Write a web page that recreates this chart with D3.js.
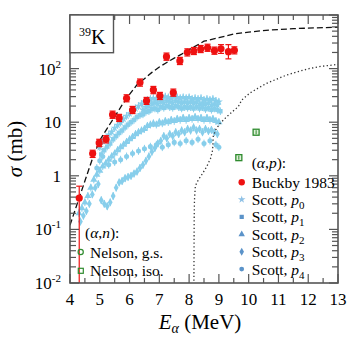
<!DOCTYPE html>
<html>
<head>
<meta charset="utf-8">
<script src="https://cdn.jsdelivr.net/npm/d3@7"></script>
<style>
  body { margin: 0; background: #fff; }
</style>
</head>
<body>
<svg id="chart" width="353" height="338" font-family="'Liberation Serif', 'Times New Roman', Times, 'DejaVu Serif', serif"></svg>
<script>
// Buckby 1983 (alpha,p)
const buckbyE = [4.31, 4.76, 4.98, 5.21, 5.43, 5.65, 5.90, 6.10, 6.35, 6.57, 6.80, 7.02, 7.24, 7.47, 7.69, 7.94, 8.16, 8.39, 8.62, 8.85, 9.07, 9.32, 9.52];
const buckbyS = [0.385, 2.6, 4.1, 4.8, 13.8, 12, 27.9, 16.9, 55, 25, 40, 31, 167, 35.5, 139, 201, 213, 232, 245, 216, 234, 207, 219];
const buckbyLo = [0.005, 2.2, 3.5, 4.1, 11.8, 10.3, 24, 14.5, 47, 21.5, 34, 26.5, 143, 30.5, 119, 172, 183, 199, 210, 185, 192, 152, 188];
const buckbyHi = [0.64, 3.0, 4.8, 5.6, 16.1, 14, 32.5, 19.7, 64, 29, 46.5, 36, 195, 41.5, 162, 234, 248, 270, 285, 252, 280, 280, 255];

// Scott (alpha,p0..p4)
const scottP0 = [[5.0,3.4],[5.1,4.4],[5.2,4.9],[5.3,5.8],[5.4,6.6],[5.5,7.8],[5.6,8.8],[5.7,9.8],[5.8,11.5],[5.9,13],[6.0,14.5],[6.1,16.5],[6.2,18],[6.3,20],[6.4,22],[6.5,24],[6.6,26],[6.7,27],[6.8,28],[6.9,27],[7.0,29],[7.1,28],[7.2,30],[7.3,29],[7.4,28],[7.5,30],[7.6,29],[7.7,28],[7.8,29],[7.9,28],[8.0,29],[8.1,27],[8.2,28],[8.3,27],[8.4,28],[8.5,26],[8.6,27],[8.7,26],[8.8,27],[8.9,25],[9.0,24],
  [6.45,17],[6.55,19],[6.65,20],[6.75,22],[6.85,23],[6.95,22],[7.05,24],[7.15,23],[7.25,25],[7.35,24],[7.45,23],[7.55,25],[7.65,24],[7.75,23],[7.85,24],[7.95,23],[8.05,24],[8.15,23],[8.25,24],[8.35,22],[8.45,23],[8.55,22],[8.65,23],[8.75,21],[8.85,22],[8.95,21]];
const scottP1 = [[5.05,2.5],[5.15,3.0],[5.25,3.5],[5.35,4.0],[5.45,4.8],[5.55,5.5],[5.65,6.3],[5.75,7.0],[5.85,8.0],[5.95,9.0],[6.05,10],[6.15,11],[6.25,12.5],[6.35,13.5],[6.45,14],[6.55,15.5],[6.65,16],[6.75,17.5],[6.85,18],[6.95,17],[7.05,19],[7.15,18.5],[7.25,20],[7.35,19],[7.45,18.5],[7.55,20],[7.65,19],[7.75,18],[7.85,19],[7.95,18.5],[8.05,19],[8.15,18],[8.25,19.5],[8.35,18],[8.45,19],[8.55,17.5],[8.65,18.5],[8.75,17],[8.85,18],[8.95,17],[9.05,16]];
const scottP2 = [[4.3,0.2],[4.4,0.25],[4.5,0.32],[4.6,0.42],[4.7,0.6],[4.8,0.85],[4.9,1.05],[5.0,1.25],[5.1,1.5],[5.2,1.7],[5.3,2.0],[5.4,2.3],[5.5,2.6],[5.6,3.0],[5.7,3.4],[5.8,3.8],[5.9,4.3],[6.0,4.8],[6.1,5.3],[6.2,6],[6.3,6.5],[6.4,7],[6.5,7.5],[6.6,8.5],[6.7,9],[6.8,9.5],[6.9,9],[7.0,10],[7.1,9.5],[7.2,10.5],[7.3,10],[7.4,11],[7.5,10.5],[7.6,11.5],[7.7,11],[7.8,12],[7.9,11],[8.0,12],[8.1,11.5],[8.2,12.5],[8.3,11.5],[8.4,12],[8.5,11],[8.6,12],[8.7,11],[8.8,11.5],[8.9,10.5],[9.0,10]];
const scottP3 = [[4.35,0.14],[4.45,0.18],[4.55,0.22],[4.65,0.3],[4.75,0.45],[4.85,0.6],[4.95,0.7],[5.05,0.35],[5.15,0.3],[5.25,0.27],[5.35,0.32],[5.45,0.42],[5.55,0.6],[5.65,0.75],[5.75,0.8],[5.85,0.9],[5.95,0.95],[6.05,1.0],[6.15,1.1],[6.25,1.2],[6.35,1.4],[6.45,1.6],[6.55,1.9],[6.65,2.3],[6.75,2.8],[6.85,3.3],[6.95,4],[7.05,4.5],[7.15,5.5],[7.25,5],[7.35,6],[7.45,5.5],[7.55,6.5],[7.65,6],[7.75,7],[7.85,6.5],[7.95,7.5],[8.05,7],[8.15,8],[8.25,7],[8.35,7.5],[8.45,6.5],[8.55,7.5],[8.65,6.8],[8.75,7.2],[8.85,6.5],[8.95,6]];
const scottP4 = [[4.9,1.4],[5.0,1.9],[5.1,2.3],[5.3,1.6],[5.5,1.8],[5.7,2.0],[5.9,2.3],[6.1,2.6],[6.3,2.9],[6.5,3.2],[6.7,3.5],[6.9,3.8],[7.1,3.4],[7.3,3.8],[7.5,4.2],[7.7,4.0],[7.9,4.5],[8.1,4.2],[8.3,4.8],[8.5,4.0],[8.7,4.5],[8.9,3.8],[9.0,3.4]];

// Nelson (alpha,n) isomer
const nelsonE = [9.67, 10.25];
const nelsonS = [2.18, 6.5];

// theory curves
const dashedE = [4.0, 4.25, 4.5, 4.75, 5.0, 5.25, 5.5, 5.75, 6.0, 6.25, 6.5, 6.75, 7.0, 7.25, 7.5, 7.75, 8.0, 8.5, 9.0, 9.5, 10.0, 10.7, 11.5, 12.2, 13.0];
const dashedS = [0.12, 0.31, 0.8, 2.05, 4.6, 7.7, 12.6, 21, 33, 50, 65, 85, 107, 130, 157, 186, 225, 324, 377, 442, 480, 525, 556, 575, 590];
const dottedE = [8.16, 8.17, 8.18, 8.21, 8.31, 8.45, 8.59, 8.72, 8.79, 8.81, 8.90, 9.04, 9.26, 9.47, 9.65, 9.77, 10.04, 10.31, 10.6, 10.92, 11.28, 11.66, 12.06, 12.43, 12.84, 13.0];
const dottedS = [0.008, 0.15, 0.35, 0.65, 0.84, 1.1, 1.48, 2.1, 3.03, 5.4, 7.3, 9.5, 12.6, 16, 19.5, 26, 35, 43, 53, 63, 76, 88, 101, 110, 117, 120];

const xTicks = [4, 5, 6, 7, 8, 9, 10, 11, 12, 13];
const yTicks = [0.01, 0.1, 1, 10, 100];
const yLabels = [["10", "-2"], ["10", "-1"], ["1", ""], ["10", ""], ["10", "2"]];

const svg = d3.select("#chart");
const L = 70, R = 338, T = 15, B = 283;
const x = d3.scaleLinear().domain([4, 13]).range([L, R]);
const y = d3.scaleLog().domain([0.01, 1000]).range([B, T]);

svg.append("clipPath").attr("id", "clip")
  .append("rect").attr("x", L).attr("y", T).attr("width", R - L).attr("height", B - T);

const plot = svg.append("g").attr("clip-path", "url(#clip)");

// Scott cloud
const sky = "#87ceeb";
const scott = [
  {data: scottP0, type: d3.symbolStar, size: 20},
  {data: scottP1, type: d3.symbolSquare, size: 20},
  {data: scottP2, type: d3.symbolTriangle, size: 22},
  {data: scottP3, type: d3.symbolDiamond, size: 20},
  {data: scottP4, type: d3.symbolCircle, size: 20}
];
scott.forEach(s => {
  const g = plot.append("g");
  g.selectAll("line")
    .data(s.data)
    .join("line")
    .attr("x1", d => x(d[0])).attr("x2", d => x(d[0]))
    .attr("y1", d => y(d[1] * 0.85)).attr("y2", d => y(d[1] * 1.18))
    .attr("stroke", sky).attr("stroke-width", 1);
  g.selectAll("path")
    .data(s.data)
    .join("path")
    .attr("transform", d => `translate(${x(d[0])},${y(d[1])})`)
    .attr("d", d3.symbol().type(s.type).size(s.size))
    .attr("fill", sky);
});

// curves
const curve = (E, S) => d3.line().x((d, i) => x(E[i])).y(d => y(d))(S);
plot.append("path").attr("d", curve(dashedE, dashedS))
  .attr("fill", "none").attr("stroke", "#111").attr("stroke-width", 1.3)
  .attr("stroke-dasharray", "6,3");
plot.append("path").attr("d", curve(dottedE, dottedS))
  .attr("fill", "none").attr("stroke", "#333").attr("stroke-width", 1.3)
  .attr("stroke-dasharray", "1.3,2.4");

// Nelson iso squares
const green = "#2e8b2e";
nelsonE.forEach((e, i) => {
  plot.append("rect")
    .attr("x", x(e) - 3).attr("y", y(nelsonS[i]) - 3)
    .attr("width", 6).attr("height", 6)
    .attr("fill", "#dff0d8").attr("stroke", green).attr("stroke-width", 1.3);
  plot.append("line")
    .attr("x1", x(e)).attr("x2", x(e))
    .attr("y1", y(nelsonS[i]) - 2).attr("y2", y(nelsonS[i]) + 2)
    .attr("stroke", green).attr("stroke-width", 1);
});

// Buckby points
const red = "#ee1111";
const bg = plot.append("g");
buckbyE.forEach((e, i) => {
  const cx = x(e);
  bg.append("line").attr("x1", cx).attr("x2", cx)
    .attr("y1", y(buckbyLo[i])).attr("y2", y(buckbyHi[i]))
    .attr("stroke", red).attr("stroke-width", 1.2);
  [buckbyLo[i], buckbyHi[i]].forEach(v => {
    bg.append("line").attr("x1", cx - 3).attr("x2", cx + 3)
      .attr("y1", y(v)).attr("y2", y(v))
      .attr("stroke", red).attr("stroke-width", 1.2);
  });
  bg.append("circle").attr("cx", cx).attr("cy", y(buckbyS[i])).attr("r", 3.6).attr("fill", red);
});

// frame and ticks
const axisCol = "#555";
const ax = svg.append("g").attr("stroke", axisCol).attr("stroke-width", 1.2);
d3.range(4, 13.01, 0.5).forEach(v => {
  const len = Number.isInteger(v) ? 9 : 5;
  ax.append("line").attr("x1", x(v)).attr("x2", x(v)).attr("y1", B).attr("y2", B - len);
  ax.append("line").attr("x1", x(v)).attr("x2", x(v)).attr("y1", T).attr("y2", T + len);
});
y.ticks(50).forEach(v => {
  const m = Math.round(v / Math.pow(10, Math.floor(Math.log10(v) + 1e-9)));
  const len = m === 1 ? 9 : 6;
  ax.append("line").attr("x1", L).attr("x2", L + len).attr("y1", y(v)).attr("y2", y(v));
  ax.append("line").attr("x1", R).attr("x2", R - len).attr("y1", y(v)).attr("y2", y(v));
});
svg.append("rect").attr("x", L).attr("y", T).attr("width", R - L).attr("height", B - T)
  .attr("fill", "none").attr("stroke", axisCol).attr("stroke-width", 1.6);

// 39K box
svg.append("rect").attr("x", L).attr("y", T).attr("width", 43.5).attr("height", 37.7)
  .attr("fill", "#fff").attr("stroke", axisCol).attr("stroke-width", 1.4);
const kt = svg.append("text").attr("x", 79).attr("y", 44).attr("font-size", 20);
kt.append("tspan").attr("font-size", 12).attr("dy", -8).text("39");
kt.append("tspan").attr("dy", 8).text("K");

// tick labels
xTicks.forEach(v => {
  svg.append("text").attr("x", x(v)).attr("y", 305).attr("text-anchor", "middle")
    .attr("font-size", 17).text(v);
});
yTicks.forEach((v, i) => {
  const t = svg.append("text").attr("x", 61).attr("y", y(v) + 6)
    .attr("text-anchor", "end").attr("font-size", 17);
  t.append("tspan").text(yLabels[i][0]);
  if (yLabels[i][1]) t.append("tspan").attr("font-size", 11).attr("dy", -7).text(yLabels[i][1]);
});

// axis titles
const xt = svg.append("text").attr("x", 200).attr("y", 329).attr("text-anchor", "middle").attr("font-size", 21);
xt.append("tspan").attr("font-style", "italic").text("E");
xt.append("tspan").attr("font-style", "italic").attr("font-size", 14).attr("dy", 4).text("α");
xt.append("tspan").attr("dy", -4).text(" (MeV)");
const yt = svg.append("text").attr("transform", "translate(22,149) rotate(-90)")
  .attr("text-anchor", "middle").attr("font-size", 21);
yt.append("tspan").attr("font-style", "italic").text("σ");
yt.append("tspan").text(" (mb)");

// legends
const fs = 15.5;
function legendTitle(px, py, ch) {
  const t = svg.append("text").attr("x", px).attr("y", py).attr("font-size", fs);
  t.append("tspan").text("(");
  t.append("tspan").attr("font-style", "italic").text("α");
  t.append("tspan").text(",");
  t.append("tspan").attr("font-style", "italic").text(ch);
  t.append("tspan").text("):");
}
legendTitle(85, 238, "n");
svg.append("circle").attr("cx", 80.7).attr("cy", 252).attr("r", 2.6)
  .attr("fill", "none").attr("stroke", green).attr("stroke-width", 1.2);
svg.append("text").attr("x", 90).attr("y", 258).attr("font-size", fs).text("Nelson, g.s.");
svg.append("rect").attr("x", 78.3).attr("y", 268.3).attr("width", 5).attr("height", 5)
  .attr("fill", "none").attr("stroke", green).attr("stroke-width", 1.2);
svg.append("text").attr("x", 90).attr("y", 276).attr("font-size", fs).text("Nelson, iso.");

legendTitle(251.7, 168, "p");
svg.append("circle").attr("cx", 241.7).attr("cy", 182.3).attr("r", 3.2).attr("fill", red);
svg.append("text").attr("x", 251.7).attr("y", 188).attr("font-size", fs).text("Buckby 1983");
const legBlue = "#5b93c9";
scott.forEach((s, i) => {
  const ly = 199.5 + i * 17.4;
  svg.append("path").attr("transform", `translate(241.7,${ly})`)
    .attr("d", d3.symbol().type(s.type).size(18)).attr("fill", i === 0 ? "#8fc1e6" : legBlue);
  const t = svg.append("text").attr("x", 251.7).attr("y", ly + 5.5).attr("font-size", fs);
  t.append("tspan").text("Scott, ");
  t.append("tspan").attr("font-style", "italic").text("p");
  t.append("tspan").attr("font-size", 11).attr("dy", 4).text(i);
});
</script>
</body>
</html>
